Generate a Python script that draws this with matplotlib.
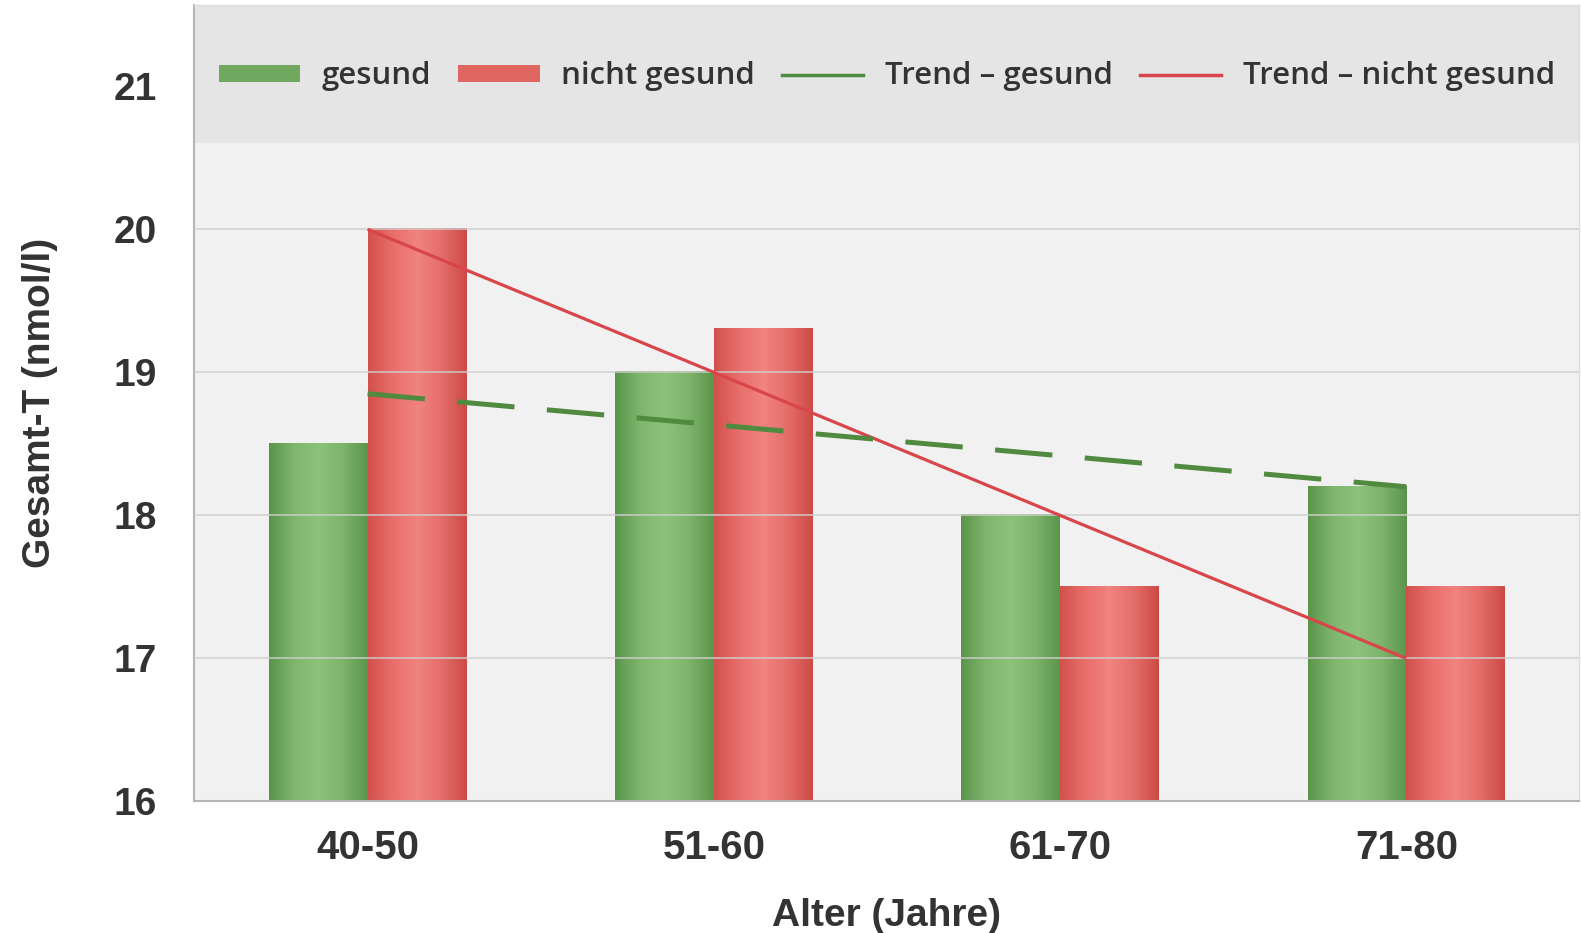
import numpy as np
import matplotlib
matplotlib.use("Agg")
import matplotlib.pyplot as plt
from matplotlib.patches import Patch
from matplotlib.lines import Line2D
from matplotlib.colors import LinearSegmentedColormap

categories = ["40-50", "51-60", "61-70", "71-80"]
gesund = [18.5, 19.0, 18.0, 18.2]
nicht_gesund = [20.0, 19.3, 17.5, 17.5]
trend_gesund = [18.85, 18.2]      # start (40-50) / end (71-80)
trend_nicht = [20.0, 17.0]
yticks = [16, 17, 18, 19, 20, 21]

fig = plt.figure(figsize=(15.81, 9.33), dpi=100)
ax = fig.add_axes([0.123, 0.141, 0.876, 0.854])
ax.set_facecolor("#f1f1f1")

x = np.arange(len(categories))
w = 0.285
ymin, ymax = 16, 21.57

bars_g = ax.bar(x - w / 2, np.array(gesund) - ymin, w, bottom=ymin, color="#6fa85e", zorder=2)
bars_r = ax.bar(x + w / 2, np.array(nicht_gesund) - ymin, w, bottom=ymin, color="#e06662", zorder=2)

cm_g = LinearSegmentedColormap.from_list("g", ["#5a944b", "#7fb56c", "#8dc27b", "#7db36a", "#5b954c"])
cm_r = LinearSegmentedColormap.from_list("r", ["#d2504b", "#e86e6b", "#f18380", "#e46d69", "#cc4a45"])
grad = np.linspace(0, 1, 256).reshape(1, -1)
for bars, cm in ((bars_g, cm_g), (bars_r, cm_r)):
    for b in bars:
        x0, y0 = b.get_x(), b.get_y()
        ax.imshow(grad, extent=[x0, x0 + b.get_width(), y0, y0 + b.get_height()],
                  cmap=cm, aspect="auto", zorder=2.1, interpolation="bicubic")

# legend band
ax.axhspan(20.6, ymax, color="#e5e5e5", zorder=0.5, lw=0)

# gridlines
for yv in yticks[1:-1]:
    ax.axhline(yv, color="#cfcfcf", lw=1.3, alpha=0.8, zorder=3)

ax.plot([x[0], x[-1]], trend_nicht, color="#d8454a", lw=2.3, zorder=4, solid_capstyle="butt")
ax.plot([x[0], x[-1]], trend_gesund, color="#4f8a3f", lw=3.6, zorder=4,
        dashes=(11.5, 6.5), dash_capstyle="butt")

ax.set_xlim(-0.5, 3.5)
ax.set_ylim(ymin, ymax)
ax.set_yticks(yticks)
ax.set_xticks(x)
ax.set_xticklabels(categories)
ax.tick_params(length=0)
ax.tick_params(axis="y", pad=27)
ax.tick_params(axis="x", pad=20)
for lab in ax.get_yticklabels():
    lab.set_fontfamily("Liberation Sans")
    lab.set_fontweight("bold")
    lab.set_fontsize(28)
    lab.set_color("#333333")
for lab in ax.get_xticklabels():
    lab.set_fontfamily("Liberation Sans")
    lab.set_fontweight("bold")
    lab.set_fontsize(29)
    lab.set_color("#333333")

ax.set_xlabel("Alter (Jahre)", fontfamily="Liberation Sans", fontweight="bold",
              fontsize=28, color="#333333", labelpad=22)
ax.set_ylabel("Gesamt-T (nmol/l)", fontfamily="Liberation Sans", fontweight="bold",
              fontsize=28, color="#333333", labelpad=40)

for s in ("top", "right"):
    ax.spines[s].set_color("#dddddd")
    ax.spines[s].set_linewidth(1.0)
for s in ("left", "bottom"):
    ax.spines[s].set_color("#b5b5b5")
    ax.spines[s].set_linewidth(1.5)

handles = [
    Patch(facecolor="#6fa85e", edgecolor="none"),
    Patch(facecolor="#e06662", edgecolor="none"),
    Line2D([0], [0], color="#4f8a3f", lw=2.5),
    Line2D([0], [0], color="#d8454a", lw=2.5),
]
labels = ["gesund", "nicht gesund", "Trend – gesund", "Trend – nicht gesund"]
leg = ax.legend(handles, labels, ncol=4, loc="center", bbox_to_anchor=(0.5, 0.91),
                frameon=False, prop={"family": "Open Sans", "size": 22.5, "weight": "semibold"},
                handlelength=2.6, handleheight=0.45, handletextpad=0.7, columnspacing=0.85,
                labelcolor="#333333")
leg.set_zorder(5)

fig.savefig("out.png", dpi=100, facecolor="white")
